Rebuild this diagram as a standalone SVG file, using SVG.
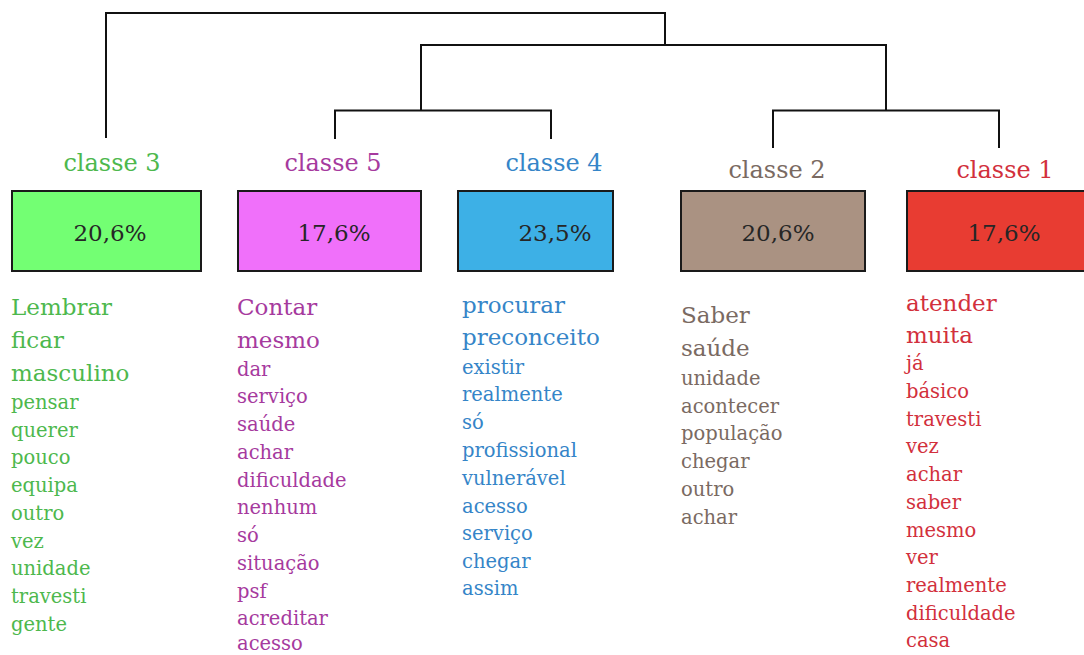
<svg xmlns="http://www.w3.org/2000/svg" width="1084" height="655" viewBox="0 0 1084 655">
<style>
text{font-family:"DejaVu Serif","Liberation Serif",serif;}
.hd{font-size:24px;text-anchor:middle;}
.pc{font-size:23px;text-anchor:middle;fill:#262626;}
.box{stroke:#1a1a1a;stroke-width:2;}
.big{font-size:23px;}
.sm{font-size:19.5px;}
.c3{fill:#4db84d;}
.c5{fill:#a63a9e;}
.c4{fill:#3585c8;}
.c2{fill:#7a6a62;}
.c1{fill:#d2303c;}
.ln{fill:none;stroke:#111;stroke-width:2;}
</style>
<rect width="1084" height="655" fill="#fff"/>
<g id="connectors">
<path class="ln" d="M106,138 V13 H665 V45"/>
<path class="ln" d="M421,110.5 V45 H886 V110.5"/>
<path class="ln" d="M335,139 V110.5 H551 V139"/>
<path class="ln" d="M773,148 V110.5 H999 V148"/>
</g>
<g id="classe3">
<text class="hd c3" x="112" y="171">classe 3</text>
<rect class="box" x="12" y="191" width="189" height="80" fill="#73ff73"/>
<text class="pc" x="110" y="241">20,6%</text>
<text class="c3 big" x="11" y="315">Lembrar</text>
<text class="c3 big" x="11" y="348">ficar</text>
<text class="c3 big" x="11" y="381">masculino</text>
<text class="c3 sm" x="11" y="409">pensar</text>
<text class="c3 sm" x="11" y="437">querer</text>
<text class="c3 sm" x="11" y="464">pouco</text>
<text class="c3 sm" x="11" y="492">equipa</text>
<text class="c3 sm" x="11" y="520">outro</text>
<text class="c3 sm" x="11" y="548">vez</text>
<text class="c3 sm" x="11" y="575">unidade</text>
<text class="c3 sm" x="11" y="603">travesti</text>
<text class="c3 sm" x="11" y="631">gente</text>
</g>
<g id="classe5">
<text class="hd c5" x="333" y="171">classe 5</text>
<rect class="box" x="238" y="191" width="183" height="80" fill="#f070fa"/>
<text class="pc" x="334" y="241">17,6%</text>
<text class="c5 big" x="237" y="315">Contar</text>
<text class="c5 big" x="237" y="348">mesmo</text>
<text class="c5 sm" x="237" y="376">dar</text>
<text class="c5 sm" x="237" y="403">serviço</text>
<text class="c5 sm" x="237" y="431">saúde</text>
<text class="c5 sm" x="237" y="459">achar</text>
<text class="c5 sm" x="237" y="487">dificuldade</text>
<text class="c5 sm" x="237" y="514">nenhum</text>
<text class="c5 sm" x="237" y="542">só</text>
<text class="c5 sm" x="237" y="570">situação</text>
<text class="c5 sm" x="237" y="598">psf</text>
<text class="c5 sm" x="237" y="625">acreditar</text>
<text class="c5 sm" x="237" y="650">acesso</text>
</g>
<g id="classe4">
<text class="hd c4" x="554" y="171">classe 4</text>
<rect class="box" x="458" y="191" width="155" height="80" fill="#3db0e6"/>
<text class="pc" x="555" y="241">23,5%</text>
<text class="c4 big" x="462" y="313">procurar</text>
<text class="c4 big" x="462" y="345">preconceito</text>
<text class="c4 sm" x="462" y="374">existir</text>
<text class="c4 sm" x="462" y="401">realmente</text>
<text class="c4 sm" x="462" y="429">só</text>
<text class="c4 sm" x="462" y="457">profissional</text>
<text class="c4 sm" x="462" y="485">vulnerável</text>
<text class="c4 sm" x="462" y="513">acesso</text>
<text class="c4 sm" x="462" y="540">serviço</text>
<text class="c4 sm" x="462" y="568">chegar</text>
<text class="c4 sm" x="462" y="595">assim</text>
</g>
<g id="classe2">
<text class="hd c2" x="777" y="178">classe 2</text>
<rect class="box" x="681" y="191" width="184" height="80" fill="#aa9282"/>
<text class="pc" x="778" y="241">20,6%</text>
<text class="c2 big" x="681" y="323">Saber</text>
<text class="c2 big" x="681" y="356">saúde</text>
<text class="c2 sm" x="681" y="385">unidade</text>
<text class="c2 sm" x="681" y="413">acontecer</text>
<text class="c2 sm" x="681" y="440">população</text>
<text class="c2 sm" x="681" y="468">chegar</text>
<text class="c2 sm" x="681" y="496">outro</text>
<text class="c2 sm" x="681" y="524">achar</text>
</g>
<g id="classe1">
<text class="hd c1" x="1005" y="178">classe 1</text>
<rect class="box" x="907" y="191" width="190" height="80" fill="#e83c32"/>
<text class="pc" x="1004" y="241">17,6%</text>
<text class="c1 big" x="906" y="311">atender</text>
<text class="c1 big" x="906" y="343">muita</text>
<text class="c1 sm" x="906" y="370">já</text>
<text class="c1 sm" x="906" y="398">básico</text>
<text class="c1 sm" x="906" y="426">travesti</text>
<text class="c1 sm" x="906" y="453">vez</text>
<text class="c1 sm" x="906" y="481">achar</text>
<text class="c1 sm" x="906" y="509">saber</text>
<text class="c1 sm" x="906" y="537">mesmo</text>
<text class="c1 sm" x="906" y="564">ver</text>
<text class="c1 sm" x="906" y="592">realmente</text>
<text class="c1 sm" x="906" y="620">dificuldade</text>
<text class="c1 sm" x="906" y="647">casa</text>
</g>
</svg>
